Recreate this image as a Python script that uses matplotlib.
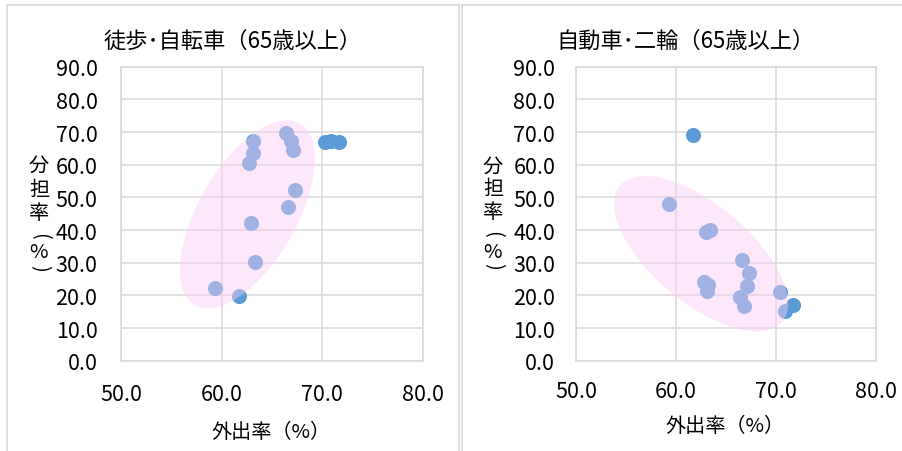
import matplotlib
matplotlib.use("Agg")
import matplotlib.pyplot as plt
from matplotlib.patches import Ellipse
from matplotlib.lines import Line2D
from matplotlib.transforms import IdentityTransform, ScaledTranslation

plt.rcParams['font.family'] = ['Noto Sans CJK JP', 'DejaVu Sans']

# ---- data ----
title_left = "徒歩･自転車（65歳以上）"
title_right = "自動車･二輪（65歳以上）"
xlabel_text = "外出率（%）"
ylabel_chars = ["分", "担", "率", "(", "%", ")"]
ylabel_rot = [0, 0, 0, -90, 0, -90]

x_ticks = [50.0, 60.0, 70.0, 80.0]
y_ticks = [0.0, 10.0, 20.0, 30.0, 40.0, 50.0, 60.0, 70.0, 80.0, 90.0]

# walking / bicycle share vs outing rate
walk_x = [63.1, 63.1, 62.7, 66.4, 66.9, 67.1, 67.3, 66.6, 62.9, 63.3, 59.3, 61.7, 70.3, 70.9, 71.7]
walk_y = [67.2, 63.6, 60.5, 69.7, 67.4, 64.4, 52.4, 47.2, 42.1, 30.2, 22.2, 19.8, 66.8, 67.4, 67.1]

# car / two-wheel share vs outing rate
car_x = [61.7, 59.3, 63.0, 63.4, 66.6, 67.3, 67.1, 66.4, 66.8, 62.8, 63.2, 63.1, 70.4, 70.9, 71.7]
car_y = [69.2, 48.0, 39.3, 40.1, 30.8, 26.8, 23.0, 19.4, 16.8, 24.0, 23.3, 21.4, 20.9, 15.1, 17.1]

# highlight ellipses: centre in data units, size (px) and angle
ell_left = dict(center=(62.56, 44.8), w=210, h=98, angle=60)
ell_right = dict(center=(62.5, 32.75), w=212, h=98, angle=-40)

W, H = 902, 452
fig = plt.figure(figsize=(W / 100, H / 100), dpi=100)

grid_col = "#D9D9D9"
pt_col = "#5B9BD5"


def make_axes(rect, xs, ys, ell, xpad, ypad):
    ax = fig.add_axes(rect)
    ax.set_xlim(50, 80)
    ax.set_ylim(0, 90)
    ax.set_xticks(x_ticks)
    ax.set_yticks(y_ticks)
    ax.set_xticklabels([f"{v:.1f}" for v in x_ticks])
    ax.set_yticklabels([f"{v:.1f}" for v in y_ticks])
    ax.grid(True, color=grid_col, linewidth=1.1)
    ax.set_axisbelow(True)
    for s in ax.spines.values():
        s.set_color(grid_col)
        s.set_linewidth(1.1)
    ax.tick_params(axis='x', length=0, pad=xpad, labelsize=15.5, colors='black')
    ax.tick_params(axis='y', length=0, pad=ypad, labelsize=15.5, colors='black')
    ax.scatter(xs, ys, s=118, color=pt_col, linewidths=0, zorder=3)
    e = Ellipse((0, 0), width=ell['w'], height=ell['h'], angle=ell['angle'],
                facecolor=(250/255, 205/255, 245/255), alpha=0.45, edgecolor='none',
                zorder=4, clip_on=False)
    e.set_transform(IdentityTransform() + ScaledTranslation(ell['center'][0], ell['center'][1], ax.transData))
    ax.add_artist(e)
    return ax


def frac(x0, y0, x1, y1):
    return [x0 / W, 1 - y1 / H, (x1 - x0) / W, (y1 - y0) / H]


axL = make_axes(frac(121, 67.7, 423, 361.7), walk_x, walk_y, ell_left, 16, 17)
axR = make_axes(frac(576, 67.7, 876, 361.7), car_x, car_y, ell_right, 14, 15)

# titles
fig.text(233 / W, 1 - 41.7 / H, title_left, ha='center', va='center', fontsize=16)
fig.text(686 / W, 1 - 41.7 / H, title_right, ha='center', va='center', fontsize=16)

# x labels
fig.text(271 / W, 1 - 433 / H, xlabel_text, ha='center', va='center', fontsize=14.5)
fig.text(725 / W, 1 - 427 / H, xlabel_text, ha='center', va='center', fontsize=14.5)

# stacked y labels
yl_pos_left = [166, 191, 214, 236, 252, 268]
yl_pos_right = [167, 190, 212, 234, 252, 266]
for ch, rot, yy in zip(ylabel_chars, ylabel_rot, yl_pos_left):
    fig.text(39 / W, 1 - yy / H, ch, ha='center', va='center', fontsize=14.5,
             rotation=rot, rotation_mode='anchor')
for ch, rot, yy in zip(ylabel_chars, ylabel_rot, yl_pos_right):
    fig.text(493 / W, 1 - yy / H, ch, ha='center', va='center', fontsize=14.5,
             rotation=rot, rotation_mode='anchor')

# panel borders
def pline(xs, ys):
    fig.add_artist(Line2D([x / W for x in xs], [1 - y / H for y in ys],
                          transform=fig.transFigure, color=grid_col, linewidth=1.2))

pline([7.5, 7.5], [5.5, 452])
pline([7.5, 459], [5.5, 5.5])
pline([459, 459], [5.5, 452])
pline([462.5, 462.5], [5.5, 452])
pline([462.5, 902], [5.5, 5.5])

fig.savefig("out.png", dpi=100)
